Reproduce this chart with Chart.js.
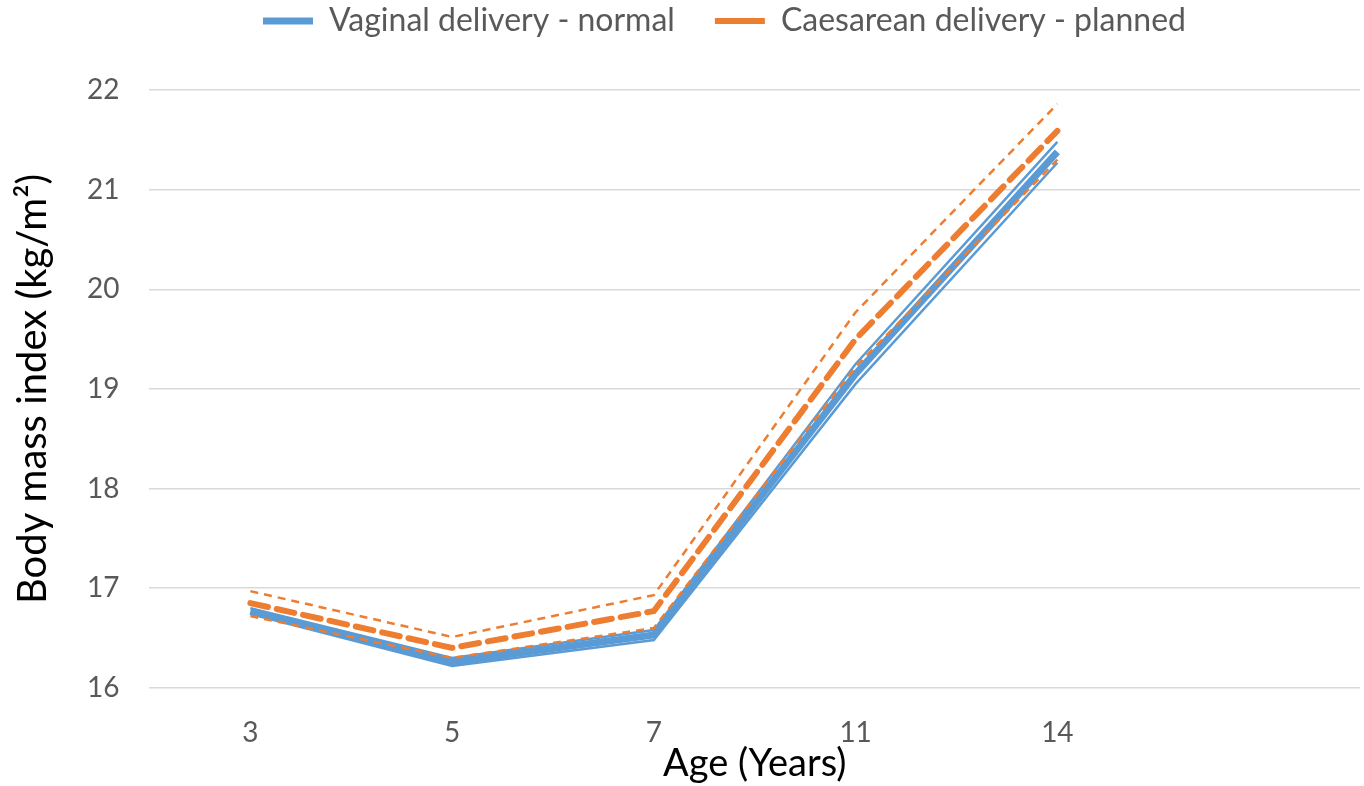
<!DOCTYPE html>
<html>
<head>
<meta charset="utf-8">
<script src="https://cdn.jsdelivr.net/npm/chart.js@4"></script>
<style>
  html, body { margin: 0; padding: 0; background: #ffffff; }
  #wrap { width: 1364px; height: 786px; }
</style>
</head>
<body>
<div id="wrap"><canvas id="bmiChart"></canvas></div>
<script>
// data
const ages = ["3", "5", "7", "11", "14", ""];

const vaginalNormal = [16.77, 16.26, 16.53, 19.15, 21.38, null];
const vaginalUpper = [16.80, 16.30, 16.58, 19.25, 21.48, null];
const vaginalLower = [16.74, 16.22, 16.48, 19.05, 21.27, null];

const caesPlanned = [16.85, 16.40, 16.77, 19.50, 21.59, null];
const caesUpper = [16.97, 16.51, 16.93, 19.77, 21.86, null];
const caesLower = [16.72, 16.30, 16.60, 19.22, 21.30, null];

const yMin = 16;
const yMax = 22;

const blue = "#5b9bd5";
const orange = "#ed7d31";
const fontFam = "Lato, 'Open Sans', sans-serif";

// extra space under the legend, and nudge it a bit to the right
const legendGap = {
  id: "legendGap",
  beforeInit(chart) {
    const fitOrig = chart.legend.fit;
    chart.legend.fit = function () {
      fitOrig.bind(chart.legend)();
      this.height += 43;
    };
  },
  afterLayout(chart) {
    chart.legend.left += 80;
  }
};

const ctx = document.getElementById("bmiChart");

new Chart(ctx, {
  type: "line",
  data: {
    labels: ages,
    datasets: [
      {
        label: "Vaginal delivery - normal",
        data: vaginalNormal,
        borderColor: blue,
        backgroundColor: blue,
        borderWidth: 7,
        pointRadius: 0,
        tension: 0,
        order: 2
      },
      {
        label: "Caesarean delivery - planned",
        data: caesPlanned,
        borderColor: orange,
        backgroundColor: orange,
        borderWidth: 6,
        borderDash: [18, 9],
        borderCapStyle: "round",
        pointRadius: 0,
        tension: 0,
        order: 1
      },
      {
        label: "vu",
        data: vaginalUpper,
        borderColor: blue,
        borderWidth: 2.5,
        pointRadius: 0,
        tension: 0,
        order: 3
      },
      {
        label: "vl",
        data: vaginalLower,
        borderColor: blue,
        borderWidth: 2.5,
        pointRadius: 0,
        tension: 0,
        order: 3
      },
      {
        label: "cu",
        data: caesUpper,
        borderColor: orange,
        borderWidth: 2.5,
        borderDash: [8, 6],
        pointRadius: 0,
        tension: 0,
        order: 1
      },
      {
        label: "cl",
        data: caesLower,
        borderColor: orange,
        borderWidth: 2.5,
        borderDash: [8, 6],
        pointRadius: 0,
        tension: 0,
        order: 1
      }
    ]
  },
  options: {
    responsive: true,
    maintainAspectRatio: false,
    animation: false,
    layout: {
      padding: { left: 9, right: 4, top: -35, bottom: -1 }
    },
    plugins: {
      tooltip: { enabled: false },
      legend: {
        display: true,
        position: "top",
        labels: {
          filter: (item) => item.datasetIndex < 2,
          sort: (a, b) => a.datasetIndex - b.datasetIndex,
          color: "#595959",
          font: { family: fontFam, size: 32 },
          boxWidth: 50,
          boxHeight: 6,
          padding: 40,
          usePointStyle: true,
          pointStyle: "line",
          pointStyleWidth: 50
        }
      }
    },
    scales: {
      x: {
        offset: true,
        grid: { display: false },
        border: { display: false },
        ticks: {
          color: "#595959",
          font: { family: fontFam, size: 28 },
          padding: 20
        },
        title: {
          display: true,
          text: "Age (Years)",
          color: "#000000",
          font: { family: fontFam, size: 38 },
          padding: { top: -28, bottom: 0 }
        }
      },
      y: {
        min: yMin,
        max: yMax,
        ticks: {
          stepSize: 1,
          color: "#595959",
          font: { family: fontFam, size: 28 },
          padding: 30
        },
        grid: {
          color: "#d9d9d9",
          lineWidth: 1.5,
          drawTicks: false
        },
        border: { display: false },
        title: {
          display: true,
          text: "Body mass index (kg/m²)",
          color: "#000000",
          font: { family: fontFam, size: 40 },
          padding: { top: 0, bottom: 0 }
        }
      }
    }
  },
  plugins: [legendGap]
});
</script>
</body>
</html>
